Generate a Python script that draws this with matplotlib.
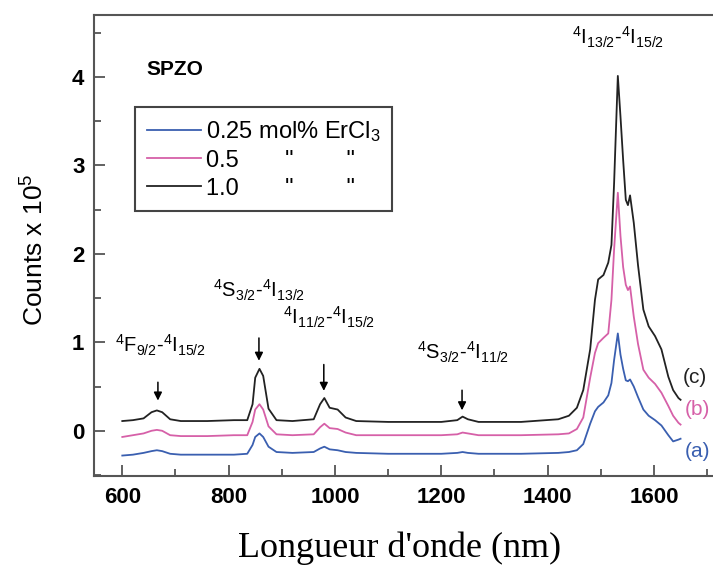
import matplotlib
matplotlib.use("Agg")
import matplotlib.pyplot as plt
from matplotlib.ticker import MultipleLocator

plt.rcParams['font.family'] = ['Liberation Sans', 'DejaVu Sans']
plt.rcParams['mathtext.fontset'] = 'custom'
plt.rcParams['mathtext.rm'] = 'Liberation Sans'
plt.rcParams['mathtext.it'] = 'Liberation Sans:italic'

# wavelength (nm) shared by the three spectra
wl = [600, 620, 640, 655, 665, 675, 690, 710, 760, 810, 835, 845, 850, 858, 865,
      875, 890, 920, 960, 972, 980, 990, 1005, 1020, 1040, 1100, 1200, 1230, 1240,
      1250, 1270, 1350, 1420, 1440, 1455, 1467, 1480, 1489, 1495, 1505, 1514, 1520,
      1525, 1532, 1537, 1542, 1547, 1551, 1555, 1562, 1570, 1580, 1590, 1602, 1614,
      1627, 1636, 1646, 1650]

# (c) 1.0 mol%
c_10 = [0.11, 0.12, 0.14, 0.21, 0.23, 0.21, 0.13, 0.11, 0.11, 0.12, 0.12, 0.30, 0.60, 0.70, 0.62,
        0.25, 0.12, 0.11, 0.13, 0.30, 0.37, 0.26, 0.24, 0.15, 0.11, 0.10, 0.10, 0.12, 0.16,
        0.13, 0.10, 0.10, 0.13, 0.17, 0.26, 0.46, 0.92, 1.48, 1.71, 1.76, 1.90, 2.10,
        2.80, 4.01, 3.55, 3.06, 2.61, 2.55, 2.66, 2.35, 1.87, 1.37, 1.18, 1.07, 0.92,
        0.61, 0.46, 0.37, 0.35]
# (b) 0.5 mol%
c_05 = [-0.07, -0.05, -0.03, 0.00, 0.01, 0.00, -0.05, -0.06, -0.06, -0.05, -0.05, 0.10, 0.24, 0.30, 0.24,
        0.05, -0.04, -0.05, -0.04, 0.04, 0.08, 0.03, 0.02, -0.02, -0.05, -0.05, -0.05, -0.04, -0.02,
        -0.03, -0.05, -0.05, -0.04, -0.03, 0.02, 0.15, 0.60, 0.88, 0.99, 1.05, 1.10, 1.48,
        2.05, 2.69, 2.20, 1.85, 1.65, 1.59, 1.63, 1.29, 0.98, 0.69, 0.60, 0.53, 0.43,
        0.28, 0.17, 0.09, 0.07]
# (a) 0.25 mol%
c_025 = [-0.28, -0.27, -0.25, -0.23, -0.22, -0.23, -0.26, -0.27, -0.27, -0.27, -0.26, -0.16, -0.07, -0.03, -0.07,
         -0.18, -0.24, -0.25, -0.24, -0.20, -0.18, -0.21, -0.22, -0.24, -0.25, -0.26, -0.26, -0.25, -0.24,
         -0.25, -0.26, -0.26, -0.25, -0.24, -0.22, -0.15, 0.08, 0.22, 0.27, 0.32, 0.40, 0.54,
         0.80, 1.10, 0.86, 0.70, 0.57, 0.56, 0.58, 0.50, 0.38, 0.24, 0.17, 0.12, 0.06,
         -0.05, -0.12, -0.10, -0.09]

labels = ['0.25 mol% ErCl$_3$',
          '0.5       "        "',
          '1.0       "        "']
colors = ['#3a5fb0', '#d660a8', '#222222']

# transition labels: text, text pos, arrow x, arrow top, arrow tip
transitions = [
    ('$^4$F$_{9/2}$-$^4$I$_{15/2}$', 672, 0.97, 667, 0.58, 0.31),
    ('$^4$S$_{3/2}$-$^4$I$_{13/2}$', 857, 1.59, 857, 1.08, 0.76),
    ('$^4$I$_{11/2}$-$^4$I$_{15/2}$', 988, 1.28, 979, 0.78, 0.42),
    ('$^4$S$_{3/2}$-$^4$I$_{11/2}$', 1241, 0.89, 1239, 0.49, 0.20),
]

fig = plt.figure(figsize=(7.13, 5.72), dpi=100)
ax = fig.add_axes([0.132, 0.168, 0.868, 0.806])

for ys, col, lab in zip([c_025, c_05, c_10], colors, labels):
    ax.plot(wl, ys, color=col, lw=1.3, label=lab)

ax.set_xlim(547, 1711)
ax.set_ylim(-0.51, 4.70)
ax.xaxis.set_major_locator(MultipleLocator(200))
ax.xaxis.set_minor_locator(MultipleLocator(100))
ax.yaxis.set_major_locator(MultipleLocator(1))
ax.yaxis.set_minor_locator(MultipleLocator(0.5))
ax.tick_params(which='both', direction='in', color='#555555', width=1.3,
               top=False, right=False)
ax.tick_params(which='major', length=8, labelsize=16)
ax.tick_params(axis='x', pad=8)
ax.tick_params(axis='y', pad=7)
ax.tick_params(which='minor', length=5)
for lbl in ax.get_xticklabels() + ax.get_yticklabels():
    lbl.set_fontweight('bold')
for s in ['left', 'bottom', 'top']:
    ax.spines[s].set_color('#555555')
    ax.spines[s].set_linewidth(1.5)
ax.spines['right'].set_visible(False)

fig.text(0.049, 0.563, 'Counts x 10$^5$', fontsize=19, rotation=90,
         ha='center', va='center')
fig.text(0.56, 1 - 548 / 572, "Longueur d'onde (nm)", fontsize=26,
         family='Liberation Serif', ha='center', va='center')

ax.text(645, 4.08, 'SPZO', fontsize=15, fontweight='bold', va='center')
ax.text(1533, 4.45, '$^4$I$_{13/2}$-$^4$I$_{15/2}$', fontsize=14.5, ha='center', va='center')
for txt, tx, ty, axx, ytop, ytip in transitions:
    ax.text(tx, ty, txt, fontsize=14.5, ha='center', va='center')
    ax.annotate('', xy=(axx, ytip), xytext=(axx, ytop),
                arrowprops=dict(arrowstyle='-|>', color='black', lw=1.1,
                                mutation_scale=12))

ax.text(1676, 0.60, '(c)', fontsize=15, color=colors[2], ha='center', va='center')
ax.text(1682, 0.24, '(b)', fontsize=15, color=colors[1], ha='center', va='center')
ax.text(1682, -0.23, '(a)', fontsize=15, color=colors[0], ha='center', va='center')

leg = ax.legend(loc='upper left', bbox_to_anchor=(0.066, 0.800), fontsize=17,
                handlelength=2.3, handletextpad=0.2, labelspacing=0.25,
                borderpad=0.5, borderaxespad=0, fancybox=False, framealpha=1)
leg.get_frame().set_edgecolor('#444444')
leg.get_frame().set_linewidth(1.5)

fig.savefig('out.png', dpi=100)
